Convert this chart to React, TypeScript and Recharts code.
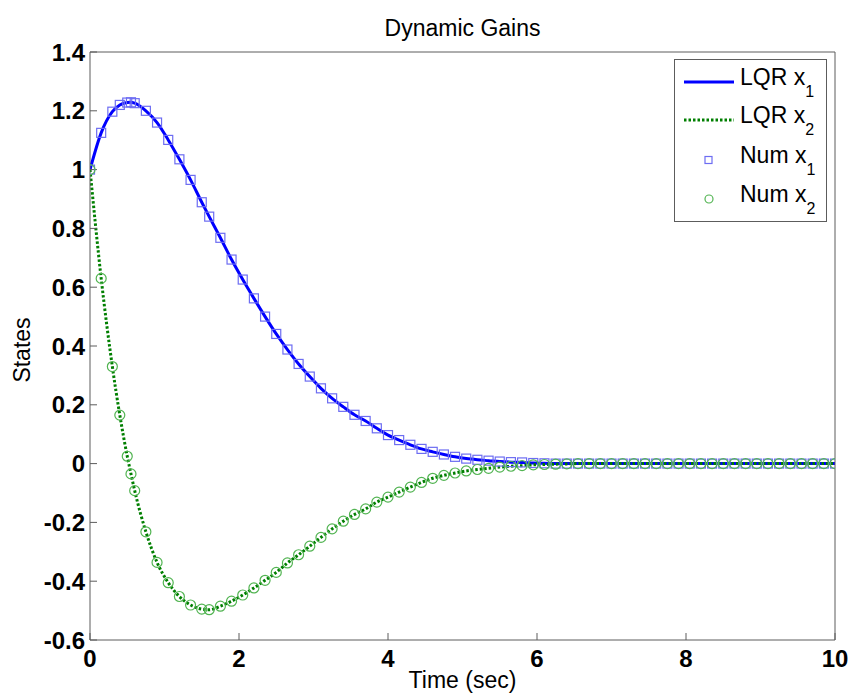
import { ComposedChart, Label, Legend, Line, XAxis, YAxis } from "recharts";

// sample times of the Num markers (sec)
const time = [
  0, 0.15, 0.3, 0.4, 0.5, 0.55, 0.6, 0.75, 0.9, 1.05, 1.2, 1.35, 1.5, 1.6, 1.75,
  1.9, 2.05, 2.2, 2.35, 2.5, 2.65, 2.8, 2.95, 3.1, 3.25, 3.4, 3.55, 3.7, 3.85, 4.0,
  4.15, 4.3, 4.45, 4.6, 4.75, 4.9, 5.05, 5.2, 5.35, 5.5, 5.65, 5.8, 5.95, 6.1,
  6.25, 6.4, 6.55, 6.7, 6.85, 7.0, 7.15, 7.3, 7.45, 7.6, 7.75, 7.9, 8.05, 8.2,
  8.35, 8.5, 8.65, 8.8, 8.95, 9.1, 9.25, 9.4, 9.55, 9.7, 9.85, 10.0,
];

const x1 = [
  1.0, 1.125, 1.197, 1.22, 1.228, 1.229, 1.226, 1.2, 1.16, 1.101, 1.035, 0.965,
  0.889, 0.84, 0.768, 0.694, 0.626, 0.562, 0.5, 0.441, 0.388, 0.339, 0.296,
  0.256, 0.222, 0.193, 0.166, 0.145, 0.12, 0.097, 0.08, 0.064, 0.05, 0.04,
  0.031, 0.023, 0.017, 0.013, 0.01, 0.007, 0.005, 0.004, 0.002, 0.001,
  0, 0, 0, 0, 0, 0, 0, 0, 0, 0, 0, 0, 0, 0, 0, 0, 0, 0, 0, 0, 0, 0, 0, 0, 0, 0,
];

const x2 = [
  1.0, 0.63, 0.33, 0.165, 0.025, -0.035, -0.092, -0.232, -0.336, -0.405, -0.452,
  -0.481, -0.495, -0.497, -0.485, -0.468, -0.447, -0.423, -0.397, -0.37, -0.338,
  -0.31, -0.281, -0.251, -0.222, -0.196, -0.173, -0.154, -0.131, -0.114, -0.097,
  -0.08, -0.064, -0.05, -0.04, -0.032, -0.025, -0.02, -0.016, -0.012, -0.009,
  -0.007, -0.004, -0.003, -0.002, -0.001,
  0, 0, 0, 0, 0, 0, 0, 0, 0, 0, 0, 0, 0, 0, 0, 0, 0, 0, 0, 0, 0, 0, 0, 0,
];

const xTicks = [0, 2, 4, 6, 8, 10];
const yTicks = [-0.6, -0.4, -0.2, 0, 0.2, 0.4, 0.6, 0.8, 1, 1.2, 1.4];

const FONT = '"Liberation Sans", Arial, Helvetica, sans-serif';
const AXIS = "#5c5c5c";
const BLUE = "#0000ff";
const GREEN = "#007f00";
const SQUARE = "#6d6df2";
const CIRCLE = "#52b452";

const data = time.map((t, i) => ({ t, x1: x1[i], x2: x2[i] }));

const tickStyle = { fontSize: 24, fontWeight: 700, fill: "#000", fontFamily: FONT };

function SquareDot(p: any) {
  if (p.cx == null || p.cy == null) return <g key={`sq-${p.index}`} />;
  return (
    <rect
      key={`sq-${p.index}`}
      x={p.cx - 4.5}
      y={p.cy - 4.5}
      width={9}
      height={9}
      fill="none"
      stroke={SQUARE}
      strokeWidth={1.2}
    />
  );
}

function CircleDot(p: any) {
  if (p.cx == null || p.cy == null) return <g key={`ci-${p.index}`} />;
  return (
    <circle
      key={`ci-${p.index}`}
      cx={p.cx}
      cy={p.cy}
      r={5}
      fill="none"
      stroke={CIRCLE}
      strokeWidth={1.2}
    />
  );
}

function LegendBox() {
  const rowY = [23, 61, 101, 140];
  return (
    <svg width={153} height={163} style={{ display: "block" }}>
      <rect x={0.5} y={0.5} width={152} height={162} fill="#fff" stroke={AXIS} />
      <line x1={10} x2={60} y1={rowY[0]} y2={rowY[0]} stroke={BLUE} strokeWidth={3} />
      <line
        x1={10}
        x2={60}
        y1={rowY[1]}
        y2={rowY[1]}
        stroke={GREEN}
        strokeWidth={3}
        strokeDasharray="2.5 2"
      />
      <rect x={31} y={rowY[2] - 3.5} width={7} height={7} fill="none" stroke={SQUARE} strokeWidth={1.2} />
      <circle cx={35} cy={rowY[3]} r={4} fill="none" stroke={CIRCLE} strokeWidth={1.2} />
      {["LQR x", "LQR x", "Num x", "Num x"].map((label, i) => (
        <text key={i} x={66} y={rowY[i] + 3} fontSize={23} fontFamily={FONT} fill="#000">
          {label}
          <tspan fontSize={16} dy={12}>
            {i % 2 === 0 ? "1" : "2"}
          </tspan>
        </text>
      ))}
    </svg>
  );
}

export default function App() {
  return (
    <div style={{ position: "absolute", left: 0, top: 0, background: "#fff", fontFamily: FONT }}>
      <ComposedChart
        width={850}
        height={697}
        data={data}
        margin={{ top: 51, right: 14, bottom: 0, left: 0 }}
      >
        <XAxis
          dataKey="t"
          type="number"
          domain={[0, 10]}
          ticks={xTicks}
          interval={0}
          allowDataOverflow
          height={57}
          tickSize={-7}
          tickMargin={17}
          tick={tickStyle}
          axisLine={{ stroke: AXIS }}
          tickLine={{ stroke: AXIS }}
        >
          <Label
            content={(props: any) => {
              const vb = props.viewBox || { x: 90, width: 745 };
              return (
                <text
                  x={vb.x + vb.width / 2}
                  y={688}
                  textAnchor="middle"
                  fontSize={23}
                  fontFamily={FONT}
                  fill="#000"
                >
                  Time (sec)
                </text>
              );
            }}
          />
        </XAxis>
        <XAxis
          xAxisId="top"
          orientation="top"
          type="number"
          domain={[0, 10]}
          ticks={xTicks}
          interval={0}
          allowDataOverflow
          height={1}
          tickSize={-7}
          tick={false}
          axisLine={{ stroke: AXIS }}
          tickLine={{ stroke: AXIS }}
        >
          <Label
            content={(props: any) => {
              const vb = props.viewBox || { x: 90, width: 745 };
              return (
                <text
                  x={vb.x + vb.width / 2}
                  y={36}
                  textAnchor="middle"
                  fontSize={23}
                  fontFamily={FONT}
                  fill="#000"
                >
                  Dynamic Gains
                </text>
              );
            }}
          />
        </XAxis>
        <YAxis
          type="number"
          domain={[-0.6, 1.4]}
          ticks={yTicks}
          interval={0}
          allowDataOverflow
          width={90}
          tickSize={-7}
          tickMargin={12}
          tick={tickStyle}
          axisLine={{ stroke: AXIS }}
          tickLine={{ stroke: AXIS }}
        >
          <Label
            content={(props: any) => {
              const vb = props.viewBox || { y: 52, height: 588 };
              const cy = vb.y + vb.height / 2 + 4;
              return (
                <text
                  x={30}
                  y={cy}
                  transform={`rotate(-90 30 ${cy})`}
                  textAnchor="middle"
                  fontSize={23}
                  fontFamily={FONT}
                  fill="#000"
                >
                  States
                </text>
              );
            }}
          />
        </YAxis>
        <YAxis
          yAxisId="right"
          orientation="right"
          type="number"
          domain={[-0.6, 1.4]}
          ticks={yTicks}
          interval={0}
          allowDataOverflow
          width={1}
          tickSize={-7}
          tick={false}
          axisLine={{ stroke: AXIS }}
          tickLine={{ stroke: AXIS }}
        />
        <Legend
          layout="horizontal"
          verticalAlign="middle"
          align="center"
          content={() => <LegendBox />}
          wrapperStyle={{ left: 674, top: 59, width: 153, height: 163 }}
        />
        <Line
          dataKey="x1"
          name="LQR x1"
          type="monotone"
          stroke={BLUE}
          strokeWidth={3}
          dot={false}
          activeDot={false}
          isAnimationActive={false}
        />
        <Line
          dataKey="x2"
          name="LQR x2"
          type="monotone"
          stroke={GREEN}
          strokeWidth={3}
          strokeDasharray="2.5 2"
          dot={false}
          activeDot={false}
          isAnimationActive={false}
        />
        <Line
          dataKey="x1"
          name="Num x1"
          stroke="none"
          dot={SquareDot}
          activeDot={false}
          isAnimationActive={false}
        />
        <Line
          dataKey="x2"
          name="Num x2"
          stroke="none"
          dot={CircleDot}
          activeDot={false}
          isAnimationActive={false}
        />
      </ComposedChart>
    </div>
  );
}
